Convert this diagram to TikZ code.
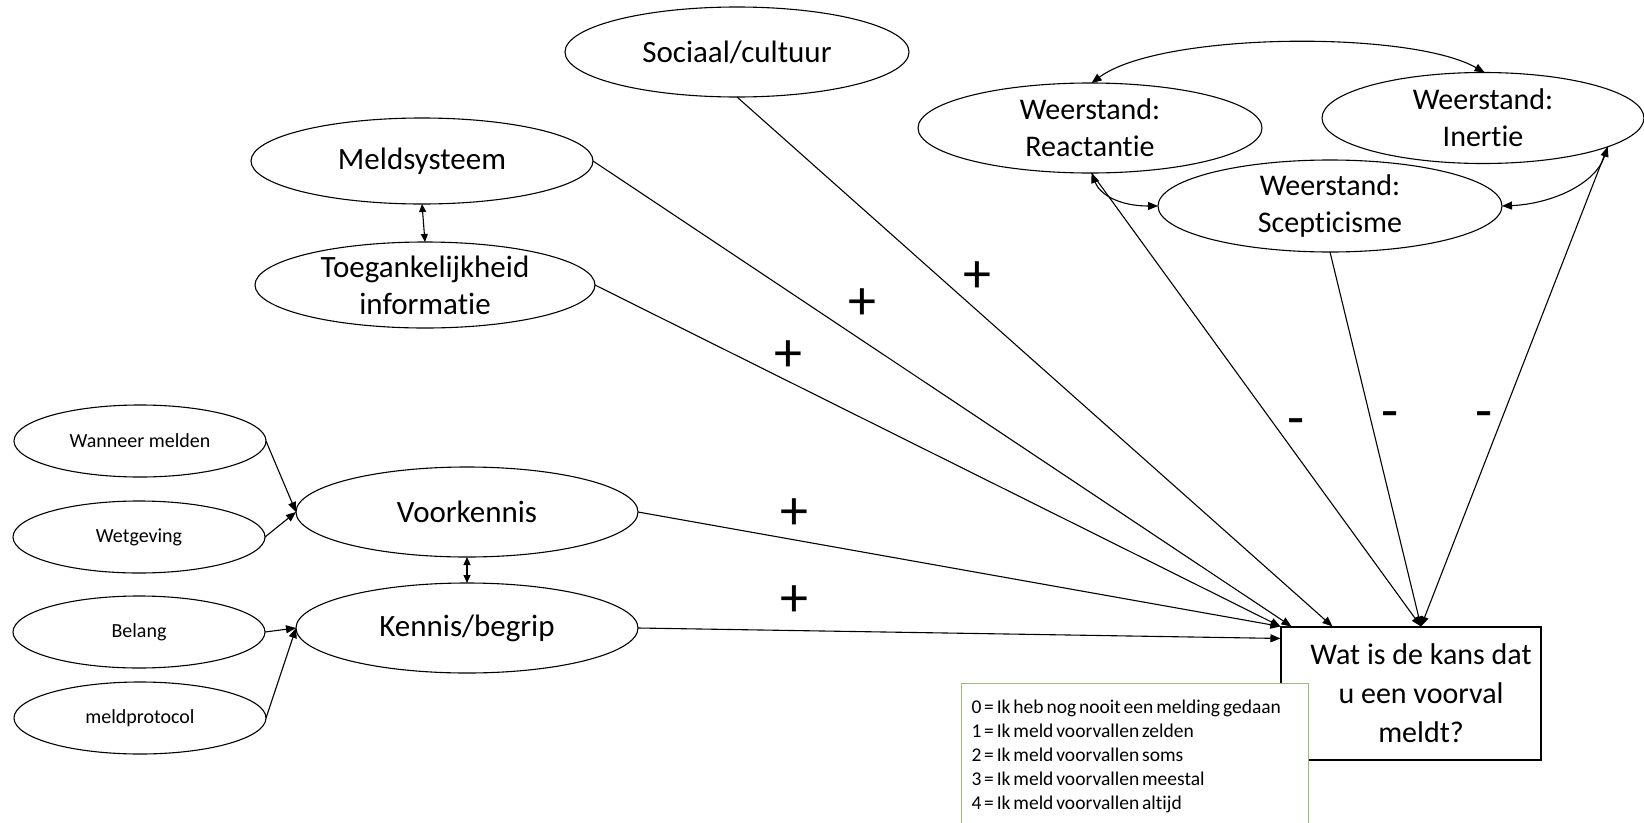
\documentclass[tikz,border=0pt]{standalone}
\usepackage{fontspec}
\setmainfont{Carlito}[Ligatures=NoCommon]
\newfontfamily\legendfont{Carlito}[Ligatures=NoCommon,WordSpace=0.65]
\usetikzlibrary{shapes.geometric,arrows.meta,calc}
\definecolor{legendgreen}{RGB}{160,185,120}
\begin{document}
\begin{tikzpicture}[x=1pt,y=-1pt,
  ell/.style={draw, ellipse, fill=white, inner xsep=0pt, inner ysep=-15pt, outer sep=0pt, line width=1.1pt, align=center},
  big/.style={font=\fontsize{31}{37}\selectfont},
  wst/.style={font=\fontsize{30}{37}\selectfont},
  small/.style={font=\fontsize{20}{24}\selectfont, minimum width=252pt, minimum height=72pt},
  conn/.style={line width=1.1pt, -{Triangle[length=10pt,width=8pt]}},
  dbl/.style={line width=1.1pt, {Triangle[length=10pt,width=8pt]}-{Triangle[length=10pt,width=8pt]}},
  dblsmall/.style={line width=1.1pt, {Triangle[length=8pt,width=7pt]}-{Triangle[length=8pt,width=7pt]}},
  sign/.style={font=\fontsize{56}{56}\selectfont, inner sep=0pt},
  target/.style={draw, rectangle, fill=white, line width=1.1pt, inner sep=0pt, minimum width=260pt, minimum height=133pt, align=center, font=\fontsize{30}{39}\selectfont},
  legendbox/.style={draw=legendgreen, fill=white, line width=1pt, rectangle, anchor=north west, minimum height=145pt, inner xsep=10pt, text width=327pt, align=flush left, font=\fontsize{19.5}{24}\legendfont\selectfont}
]
\useasboundingbox (0,0) rectangle (1644,822);

% ellipses
\node[ell,big,minimum width=344pt,minimum height=90pt] (soc) at (737,52) {Sociaal/cultuur};
\node[ell,big,minimum width=342pt,minimum height=86pt] (mel) at (422,161) {Meldsysteem};
\node[ell,big,minimum width=340pt,minimum height=86pt] (toe) at (425,285) {Toegankelijkheid\\informatie};
\node[ell,big,minimum width=342pt,minimum height=90pt] (voo) at (467,512) {Voorkennis};
\node[ell,big,minimum width=342pt,minimum height=90pt] (ken) at (467,628) {Kennis/begrip};
\node[ell,small] (wan) at (140,441) {Wanneer melden};
\node[ell,small] (wet) at (139,537) {Wetgeving};
\node[ell,small] (bel) at (139,632) {Belang};
\node[ell,small] (mp) at (140,718) {meldprotocol};
\node[ell,wst,minimum width=344pt,minimum height=90pt] (rea) at (1090,128) {Weerstand:\\Reactantie};
\node[ell,wst,minimum width=322pt,minimum height=91pt] (ine) at (1483,118) {Weerstand:\\Inertie};
\node[ell,wst,minimum width=344pt,minimum height=92pt] (sce) at (1330,206) {Weerstand:\\Scepticisme};

% target
\node[target] (tgt) at (1411,693.5) {\hspace*{20pt}Wat is de kans dat\\\hspace*{20pt}u een voorval\\\hspace*{20pt}meldt?};

% connectors
\draw[conn] (wan.east) -- (voo.west);
\draw[conn] (wet.east) -- (voo.west);
\draw[conn] (bel.east) -- (ken.west);
\draw[conn] (mp.east) -- (ken.west);
\draw[dblsmall] (mel.south) -- (toe.north);
\draw[dblsmall] (voo.south) -- (ken.north);

\draw[conn] (soc.south) -- ($(tgt.north west)+(52,0)$);
\draw[conn] (mel.east) -- ($(tgt.north west)+(11,0)$);
\draw[conn] (toe.east) -- (tgt.north west);
\draw[conn] (voo.east) -- (tgt.north west);
\draw[conn] (ken.east) -- ($(tgt.north west)+(0,12)$);
\draw[conn] (rea.-88) -- ($(tgt.north)+(10,0)$);
\draw[conn] (sce.south) -- ($(tgt.north)+(10,0)$);
\draw[conn] (ine.-13) -- ($(tgt.north)+(10,0)$);

\draw[dbl] (rea.88) .. controls (1160,32) and (1410,30) .. (ine.88);
\draw[dbl] (rea.-88) .. controls (1100,195) and (1120,206) .. (sce.west);
\draw[dbl] (sce.east) .. controls (1550,204) and (1595,185) .. (ine.-13);

% signs
\node[sign] (p1) at (977,277) {+};
\node[sign] (p2) at (862,304) {+};
\node[sign] (p3) at (788,356) {+};
\node[sign] (p4) at (794,514) {+};
\node[sign] (p5) at (794,601) {+};
\node[sign] (m1) at (1296,428) {-};
\node[sign] (m2) at (1390,421) {-};
\node[sign] (m3) at (1484,421) {-};

% legend
\node[legendbox] (leg) at (961,683) {0 = Ik heb nog nooit een melding gedaan\\1 = Ik meld voorvallen zelden\\2 = Ik meld voorvallen soms\\3 = Ik meld voorvallen meestal\\4 = Ik meld voorvallen altijd};
\end{tikzpicture}
\end{document}
